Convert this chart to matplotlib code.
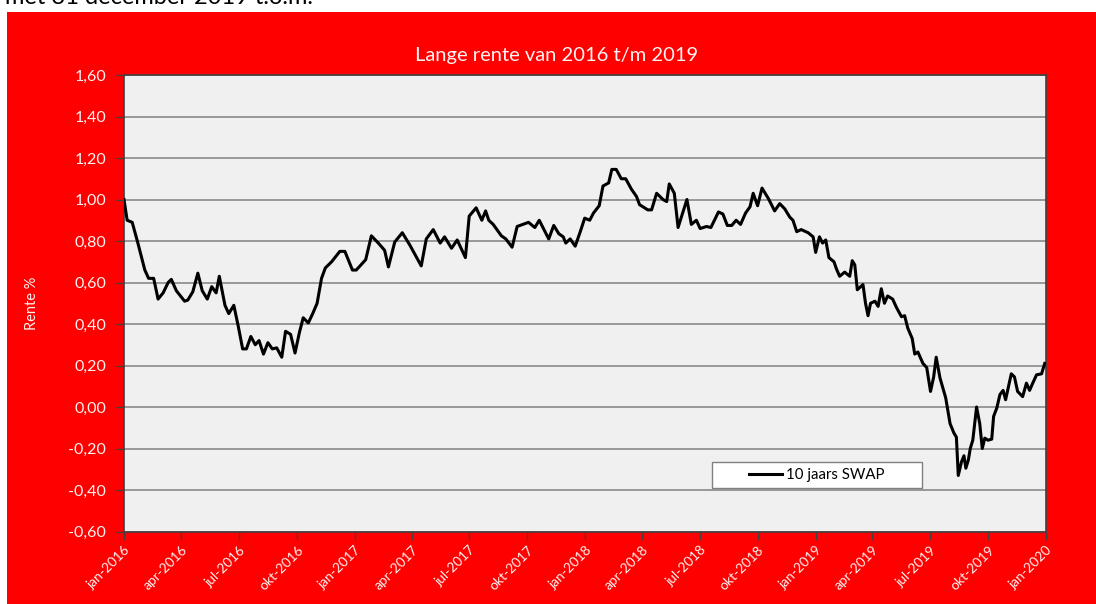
import pandas as pd
import matplotlib
matplotlib.use("Agg")
import matplotlib.pyplot as plt
from matplotlib.patches import Rectangle

# 10-year swap rate (%), sampled roughly weekly
dates = [
    "2016-01-01", "2016-01-06", "2016-01-14", "2016-01-23", "2016-02-03", "2016-02-09",
    "2016-02-17", "2016-02-24", "2016-03-03", "2016-03-11", "2016-03-16", "2016-03-24",
    "2016-04-06", "2016-04-11", "2016-04-19", "2016-04-27", "2016-05-04", "2016-05-12",
    "2016-05-19", "2016-05-26", "2016-05-31", "2016-06-09", "2016-06-15", "2016-06-23",
    "2016-06-30", "2016-07-07", "2016-07-13", "2016-07-20", "2016-07-27", "2016-08-02",
    "2016-08-09", "2016-08-16", "2016-08-23", "2016-08-30", "2016-09-07", "2016-09-13",
    "2016-09-21", "2016-09-28", "2016-10-05", "2016-10-11", "2016-10-19", "2016-10-26",
    "2016-11-02", "2016-11-09", "2016-11-15", "2016-11-25", "2016-12-08", "2016-12-16",
    "2016-12-28", "2017-01-03", "2017-01-18", "2017-01-27", "2017-02-07", "2017-02-17",
    "2017-02-23", "2017-03-05", "2017-03-17", "2017-03-29", "2017-04-16", "2017-04-24",
    "2017-05-05", "2017-05-16", "2017-05-23", "2017-06-03", "2017-06-12", "2017-06-25",
    "2017-07-01", "2017-07-12", "2017-07-21", "2017-07-27", "2017-08-01", "2017-08-08",
    "2017-08-21", "2017-08-28", "2017-09-07", "2017-09-15", "2017-09-24", "2017-10-03",
    "2017-10-13", "2017-10-20", "2017-11-04", "2017-11-12", "2017-11-20", "2017-11-27",
    "2017-12-01", "2017-12-08", "2017-12-16", "2017-12-24", "2017-12-31", "2018-01-08",
    "2018-01-14", "2018-01-23", "2018-01-29", "2018-02-07", "2018-02-12", "2018-02-19",
    "2018-02-27", "2018-03-06", "2018-03-15", "2018-03-23", "2018-03-28", "2018-04-10",
    "2018-04-16", "2018-04-24", "2018-05-04", "2018-05-10", "2018-05-14", "2018-05-22",
    "2018-05-28", "2018-06-11", "2018-06-18", "2018-06-26", "2018-07-02", "2018-07-12",
    "2018-07-19", "2018-07-31", "2018-08-07", "2018-08-14", "2018-08-21", "2018-08-28",
    "2018-09-04", "2018-09-12", "2018-09-19", "2018-09-24", "2018-10-01", "2018-10-08",
    "2018-10-18", "2018-10-28", "2018-11-05", "2018-11-13", "2018-11-21", "2018-11-26",
    "2018-12-02", "2018-12-09", "2018-12-20", "2018-12-28", "2019-01-01", "2019-01-07",
    "2019-01-12", "2019-01-17", "2019-01-22", "2019-01-30", "2019-02-03", "2019-02-08",
    "2019-02-16", "2019-02-24", "2019-02-28", "2019-03-04", "2019-03-08", "2019-03-17",
    "2019-03-21", "2019-03-25", "2019-03-29", "2019-04-05", "2019-04-10", "2019-04-15",
    "2019-04-20", "2019-04-25", "2019-05-03", "2019-05-09", "2019-05-17", "2019-05-22",
    "2019-05-27", "2019-06-03", "2019-06-07", "2019-06-12", "2019-06-20", "2019-06-26",
    "2019-07-02", "2019-07-07", "2019-07-11", "2019-07-17", "2019-07-26", "2019-08-02",
    "2019-08-08", "2019-08-12", "2019-08-15", "2019-08-20", "2019-08-24", "2019-08-27",
    "2019-08-31", "2019-09-03", "2019-09-07", "2019-09-13", "2019-09-18", "2019-09-22",
    "2019-09-26", "2019-10-01", "2019-10-07", "2019-10-10", "2019-10-15", "2019-10-20",
    "2019-10-25", "2019-10-29", "2019-11-03", "2019-11-07", "2019-11-12", "2019-11-17",
    "2019-11-25", "2019-12-01", "2019-12-06", "2019-12-11", "2019-12-17", "2019-12-25",
    "2019-12-30",
]
swap_10y = [
    1.00, 0.90, 0.89, 0.79, 0.66, 0.62,
    0.62, 0.52, 0.55, 0.60, 0.615, 0.56,
    0.51, 0.515, 0.555, 0.645, 0.56, 0.52,
    0.58, 0.55, 0.63, 0.49, 0.45, 0.49,
    0.39, 0.28, 0.28, 0.34, 0.30, 0.32,
    0.255, 0.31, 0.28, 0.285, 0.24, 0.365,
    0.35, 0.26, 0.36, 0.43, 0.405, 0.45,
    0.50, 0.62, 0.67, 0.70, 0.75, 0.75,
    0.66, 0.66, 0.71, 0.825, 0.79, 0.755,
    0.675, 0.795, 0.84, 0.78, 0.68, 0.81,
    0.855, 0.79, 0.82, 0.765, 0.805, 0.72,
    0.92, 0.96, 0.90, 0.945, 0.90, 0.88,
    0.825, 0.81, 0.77, 0.87, 0.88, 0.89,
    0.865, 0.90, 0.81, 0.875, 0.835, 0.82,
    0.79, 0.81, 0.775, 0.845, 0.91, 0.90,
    0.935, 0.97, 1.065, 1.08, 1.145, 1.145,
    1.10, 1.10, 1.05, 1.015, 0.975, 0.95,
    0.95, 1.03, 1.00, 0.99, 1.075, 1.03,
    0.865, 1.00, 0.88, 0.90, 0.86, 0.87,
    0.865, 0.94, 0.93, 0.875, 0.875, 0.90,
    0.88, 0.935, 0.965, 1.03, 0.97, 1.055,
    1.005, 0.945, 0.98, 0.955, 0.915, 0.90,
    0.845, 0.855, 0.84, 0.82, 0.745, 0.82,
    0.79, 0.805, 0.72, 0.70, 0.665, 0.63,
    0.65, 0.63, 0.705, 0.685, 0.565, 0.59,
    0.50, 0.44, 0.50, 0.51, 0.485, 0.57,
    0.50, 0.535, 0.52, 0.48, 0.435, 0.44,
    0.38, 0.33, 0.255, 0.265, 0.21, 0.19,
    0.075, 0.145, 0.24, 0.14, 0.045, -0.08,
    -0.125, -0.145, -0.33, -0.265, -0.235, -0.295,
    -0.255, -0.20, -0.16, 0.00, -0.08, -0.20,
    -0.15, -0.16, -0.155, -0.045, -0.005, 0.06,
    0.08, 0.035, 0.105, 0.16, 0.145, 0.075,
    0.05, 0.115, 0.08, 0.115, 0.155, 0.16,
    0.21,
]

tick_dates = [
    "2016-01-01", "2016-04-01", "2016-07-01", "2016-10-01",
    "2017-01-01", "2017-04-01", "2017-07-01", "2017-10-01",
    "2018-01-01", "2018-04-01", "2018-07-01", "2018-10-01",
    "2019-01-01", "2019-04-01", "2019-07-01", "2019-10-01",
    "2020-01-01",
]
tick_labels = [
    "jan-2016", "apr-2016", "jul-2016", "okt-2016",
    "jan-2017", "apr-2017", "jul-2017", "okt-2017",
    "jan-2018", "apr-2018", "jul-2018", "okt-2018",
    "jan-2019", "apr-2019", "jul-2019", "okt-2019",
    "jan-2020",
]
y_ticks = [-0.6, -0.4, -0.2, 0.0, 0.2, 0.4, 0.6, 0.8, 1.0, 1.2, 1.4, 1.6]

RED = "#ff0000"
FONT = "Lato"
LABEL_COLOR = "#fff2f2"

x = pd.to_datetime(dates)
xt = pd.to_datetime(tick_dates)

fig = plt.figure(figsize=(10.96, 6.04), dpi=100, facecolor="white")

# red chart area below the page text
fig.patches.append(Rectangle((7 / 1096, 0), 1, 592 / 604, transform=fig.transFigure,
                             facecolor=RED, edgecolor="none", zorder=-10))
fig.text(0.005, 1 - 4 / 604, "met 31 december 2019 t.o.m.", fontsize=17,
         family=FONT, color="black", va="baseline", ha="left")

ax = fig.add_axes([124 / 1096, 1 - 531.5 / 604, 922 / 1096, 456.5 / 604])
ax.set_zorder(1)
ax.set_facecolor("#f0f0f0")

ax.plot(x, swap_10y, color="black", linewidth=2.2, label="10 jaars SWAP",
        solid_joinstyle="round", zorder=3)

ax.set_xlim(xt[0], xt[-1])
ax.set_ylim(-0.6, 1.6)
ax.set_yticks(y_ticks)
ax.set_yticklabels([f"{v:.2f}".replace(".", ",") for v in y_ticks],
                   color=LABEL_COLOR, fontsize=11.5, family=FONT)
ax.set_xticks(xt)
ax.set_xticklabels(tick_labels, rotation=45, ha="right", va="top",
                   rotation_mode="anchor", color=LABEL_COLOR, fontsize=9.8, family=FONT)
ax.tick_params(axis="y", direction="out", length=6, width=1, color="#404040", pad=7)
ax.tick_params(axis="x", direction="out", length=6, width=1, color="#404040", pad=3)

ax.grid(axis="y", color="#808080", linewidth=1.1)
ax.set_axisbelow(True)
for side in ax.spines.values():
    side.set_color("#404040")
    side.set_linewidth(1.2)

# title sits over the middle of the red panel, not the plot area
ax.set_title("Lange rente van 2016 t/m 2019", color=LABEL_COLOR, fontsize=14.5,
             family=FONT, pad=10, x=0.4696)
ax.set_ylabel("Rente %", color=LABEL_COLOR, fontsize=10.5, family=FONT, labelpad=21)

# legend box is wider than its content
ax.add_patch(Rectangle((0.6374, 0.0946), 0.2284, 0.057, transform=ax.transAxes,
                       facecolor="white", edgecolor="#808080", linewidth=1, zorder=4))
leg = ax.legend(loc="center", bbox_to_anchor=(0.7516, 0.1231), frameon=False,
                prop={"family": FONT, "size": 10.8}, handlelength=2.2, handletextpad=0.3)
leg.set_zorder(5)

fig.savefig("out.png", dpi=100, facecolor=fig.get_facecolor())
